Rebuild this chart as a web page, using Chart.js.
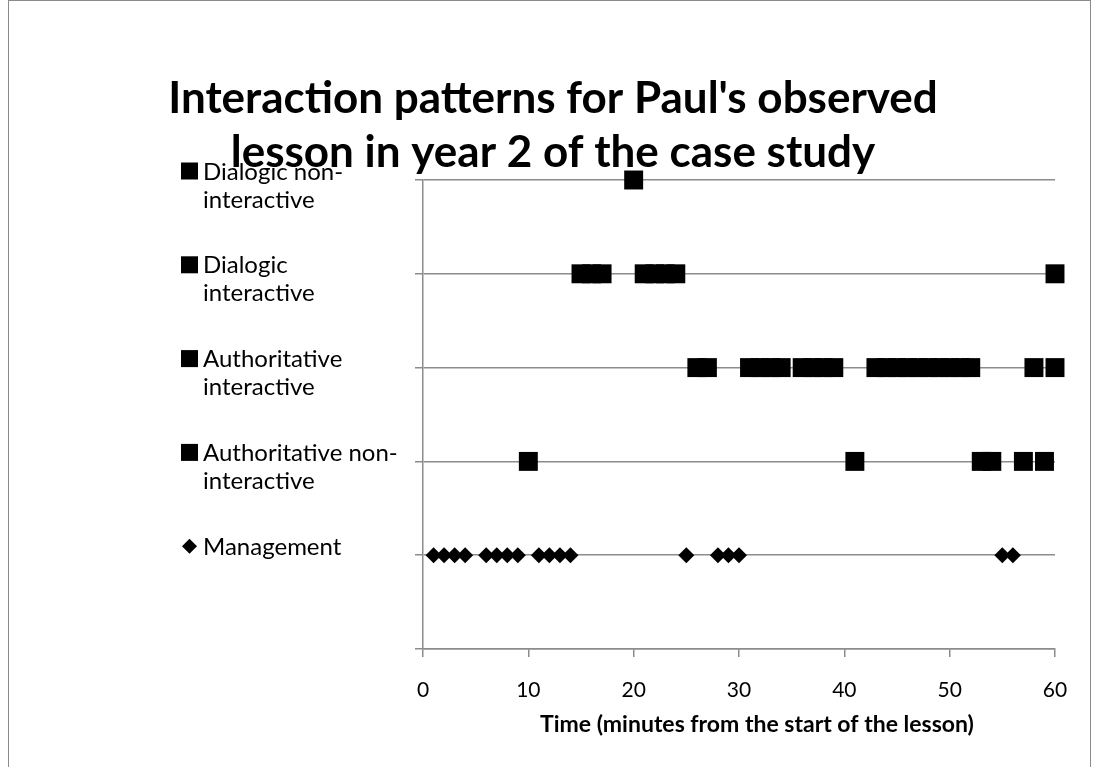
<!DOCTYPE html>
<html>
<head>
<meta charset="utf-8">
<title>Interaction patterns</title>
<script src="https://cdn.jsdelivr.net/npm/chart.js@4.4.1/dist/chart.umd.min.js"></script>
<style>
  html, body { margin: 0; padding: 0; background: #fff; overflow: hidden; }
  #wrap { position: relative; width: 1094px; height: 767px; }
  #frame { position: absolute; left: 8px; top: 0; width: 1083px; height: 800px; border: 1px solid #8a8a8a; box-sizing: border-box; pointer-events: none; }
</style>
</head>
<body>
<div id="wrap">
  <canvas id="chart" width="1094" height="767"></canvas>
  <div id="frame"></div>
</div>
<script>
// minute marks for each interaction type (y level = row on the chart)
let management = [1, 2, 3, 4, 6, 7, 8, 9, 11, 12, 13, 14, 25, 28, 29, 30, 55, 56];
let authNonInteractive = [10, 41, 53, 54, 57, 59];
let authInteractive = [26, 27, 31, 32, 33, 34, 36, 37, 38, 39, 43, 44, 45, 46, 47, 48, 49, 50, 51, 52, 58, 60];
let dialogicInteractive = [15, 16, 17, 21, 22, 23, 24, 60];
let dialogicNonInteractive = [20];

let seriesNames = ["Management", "Authoritative non-interactive", "Authoritative interactive", "Dialogic interactive", "Dialogic non-interactive"];
let legendLines = [["Management"], ["Authoritative non-", "interactive"], ["Authoritative", "interactive"], ["Dialogic", "interactive"], ["Dialogic non-", "interactive"]];
let xTicks = [0, 10, 20, 30, 40, 50, 60];
let xTitle = 'Time (minutes from the start of the lesson)';

let gridGrey = '#8c8c8c';
let font = 'Lato';

function toPoints(minutes, level) {
    return minutes.map((m) => ({x: m, y: level}));
}

let seriesMinutes = [management, authNonInteractive, authInteractive, dialogicInteractive, dialogicNonInteractive];

let datasets = seriesMinutes.map((minutes, i) => ({
    label: seriesNames[i],
    data: toPoints(minutes, i + 1),
    pointStyle: i === 0 ? 'rectRot' : 'rect',
    pointRadius: i === 0 ? 8 : 13.4,
    pointHoverRadius: i === 0 ? 8 : 13.4,
    backgroundColor: '#000',
    borderColor: '#000',
    borderWidth: 0,
    showLine: false,
    clip: false,
}));

// Excel style legend on the left, one entry per row, top row first,
// plus the x axis title which sits a bit right of the plot centre
let sideLegend = {
    id: 'sideLegend',
    afterDraw(chart) {
        let ctx = chart.ctx;
        let yScale = chart.scales.y;
        let xScale = chart.scales.x;
        ctx.save();
        ctx.fillStyle = '#000';
        ctx.font = '24px ' + font;
        ctx.textBaseline = 'alphabetic';
        ctx.textAlign = 'left';
        chart.data.datasets.forEach((ds, i) => {
            let cy = yScale.getPixelForValue(i + 1) - 9;
            let cx = 189.5;
            if (ds.pointStyle === 'rectRot') {
                ctx.beginPath();
                ctx.moveTo(cx - 7.5, cy);
                ctx.lineTo(cx, cy - 7.5);
                ctx.lineTo(cx + 7.5, cy);
                ctx.lineTo(cx, cy + 7.5);
                ctx.closePath();
                ctx.fill();
            } else {
                ctx.fillRect(cx - 8.5, cy - 8.5, 17, 17);
            }
            legendLines[i].forEach((line, j) => {
                ctx.fillText(line, 203, cy + 8.5 + j * 28);
            });
        });

        ctx.font = 'bold 23px ' + font;
        ctx.textAlign = 'center';
        ctx.textBaseline = 'middle';
        ctx.fillText(xTitle, xScale.getPixelForValue(31.7), 725);
        ctx.restore();
    }
};

let chartCanvas = document.getElementById("chart").getContext('2d');
let graph = new Chart(chartCanvas, {
    type: 'scatter',
    data: {datasets: datasets},
    plugins: [sideLegend],
    options: {
        responsive: false,
        animation: false,
        events: [],
        layout: {padding: {left: 51, right: 39, top: 0, bottom: 0}},
        plugins: {
            legend: {display: false},
            tooltip: {enabled: false},
            title: {
                display: true,
                text: ["Interaction patterns for Paul's observed", "lesson in year 2 of the case study"],
                color: '#000',
                font: {family: font, size: 44, weight: 'bold', lineHeight: 54 / 44},
                padding: {top: 72, bottom: 0},
            },
        },
        scales: {
            x: {
                type: 'linear',
                min: 0,
                max: 60,
                afterBuildTicks: (scale) => { scale.ticks = xTicks.map((v) => ({value: v})); },
                afterFit: (scale) => { scale.height = 767 - 649; },
                grid: {drawOnChartArea: false, drawTicks: true, tickLength: 8, color: gridGrey, lineWidth: 1.5},
                border: {display: true, color: gridGrey, width: 1.5},
                ticks: {color: '#000', font: {family: font, size: 21}, padding: 21},
            },
            y: {
                type: 'linear',
                min: 0,
                max: 5,
                ticks: {stepSize: 1, display: false},
                afterFit: (scale) => { scale.width = 423 - 51; },
                grid: {color: gridGrey, lineWidth: 1.5, drawTicks: true, tickLength: 8},
                border: {display: true, color: gridGrey, width: 1.5},
            },
        },
    },
});
</script>
</body>
</html>
